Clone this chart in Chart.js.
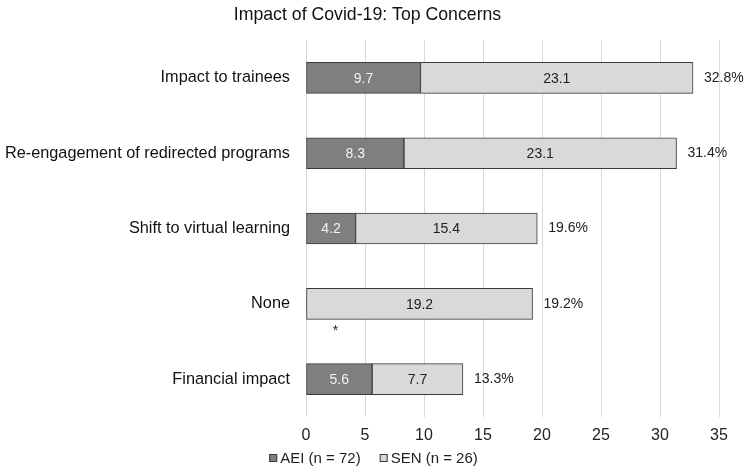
<!DOCTYPE html>
<html>
<head>
<meta charset="utf-8">
<script src="https://cdn.jsdelivr.net/npm/chart.js@4"></script>
<style>
  html, body { margin: 0; padding: 0; background: #fff; }
  #wrap { width: 747px; height: 473px; }
</style>
</head>
<body>
<div id="wrap"><canvas id="concernChart" width="747" height="473"></canvas></div>
<script>
const categories = ['Impact to trainees', 'Re-engagement of redirected programs', 'Shift to virtual learning', 'None', 'Financial impact'];
const aeiValues = [9.7, 8.3, 4.2, 0, 5.6];
const senValues = [23.1, 23.1, 15.4, 19.2, 7.7];
const totalLabels = ['32.8%', '31.4%', '19.6%', '19.2%', '13.3%'];
const xTicks = [0, 5, 10, 15, 20, 25, 30, 35];

const fontName = '"Liberation Sans", Arial, sans-serif';

// value labels inside bars, totals at bar ends, "*" where AEI is zero
const barLabels = {
    id: 'barLabels',
    afterLayout(chart) {
        // centre the title on the canvas, not on the padded box
        chart.titleBlock.left += 8;
        chart.titleBlock.right += 8;
    },
    afterDatasetsDraw(chart) {
        const ctx = chart.ctx;
        const xScale = chart.scales.x;
        ctx.save();
        ctx.font = '14px ' + fontName;
        ctx.textBaseline = 'middle';

        chart.data.datasets.forEach((ds, di) => {
            const meta = chart.getDatasetMeta(di);
            meta.data.forEach((bar, i) => {
                const p = bar.getProps(['x', 'base', 'y', 'height'], true);
                const v = ds.data[i];
                if (v === 0) {
                    ctx.fillStyle = '#222';
                    ctx.textAlign = 'center';
                    ctx.fillText('*', xScale.getPixelForValue(2.5), p.y + p.height / 2 + 12);
                    return;
                }
                ctx.fillStyle = di === 0 ? '#f2f2f2' : '#222';
                ctx.textAlign = 'center';
                ctx.fillText(v.toFixed(1), (p.x + p.base) / 2, p.y + 1);
            });
        });

        const last = chart.getDatasetMeta(chart.data.datasets.length - 1);
        last.data.forEach((bar, i) => {
            const p = bar.getProps(['x', 'y'], true);
            ctx.fillStyle = '#222';
            ctx.textAlign = 'left';
            ctx.fillText(totalLabels[i], p.x + 11, p.y);
        });
        ctx.restore();
    },
    afterDraw(chart) {
        // small legend under the axis, Excel style (box tight to text)
        const ctx = chart.ctx;
        const sets = chart.data.datasets;
        ctx.save();
        ctx.font = '15px ' + fontName;
        ctx.textBaseline = 'middle';
        const widths = sets.map(ds => ctx.measureText(ds.label).width);
        const box = 8, gap = 3, between = 19;
        const total = widths.reduce((a, w) => a + box + gap + w, 0) + between * (sets.length - 1);
        let x = chart.width / 2 - total / 2;
        const y = 458;
        sets.forEach((ds, i) => {
            ctx.fillStyle = ds.backgroundColor;
            ctx.strokeStyle = ds.borderColor;
            ctx.lineWidth = 1;
            ctx.fillRect(x, y - box / 2, box, box);
            ctx.strokeRect(x + 0.5, y - box / 2 + 0.5, box - 1, box - 1);
            x += box + gap;
            ctx.fillStyle = '#222';
            ctx.textAlign = 'left';
            ctx.fillText(ds.label, x, y + 1);
            x += widths[i] + between;
        });
        ctx.restore();
    }
};

new Chart(document.getElementById('concernChart'), {
    type: 'bar',
    data: {
        labels: categories,
        datasets: [
            {
                label: 'AEI (n = 72)',
                data: aeiValues,
                backgroundColor: '#7f7f7f',
                borderColor: '#3a3a3a',
                borderWidth: 1,
                borderSkipped: false,
                barThickness: 31
            },
            {
                label: 'SEN (n = 26)',
                data: senValues,
                backgroundColor: '#d9d9d9',
                borderColor: '#3a3a3a',
                borderWidth: 1,
                borderSkipped: false,
                barThickness: 31
            }
        ]
    },
    options: {
        indexAxis: 'y',
        responsive: false,
        animation: false,
        layout: { padding: { left: 0, right: 28, top: 0, bottom: 19 } },
        scales: {
            x: {
                stacked: true,
                min: 0,
                max: 35,
                afterBuildTicks: (scale) => { scale.ticks = xTicks.map(v => ({ value: v })); },
                grid: { color: '#d9d9d9', drawTicks: false },
                border: { display: false },
                ticks: { padding: 9, color: '#222', font: { family: fontName, size: 16 } }
            },
            y: {
                stacked: true,
                grid: { display: false, drawTicks: false },
                border: { display: false },
                afterFit: (scale) => { scale.width = 306; },
                ticks: { padding: 16, color: '#111', font: { family: fontName, size: 16.3 } }
            }
        },
        plugins: {
            title: {
                display: true,
                text: 'Impact of Covid-19: Top Concerns',
                color: '#111',
                font: { family: fontName, size: 17.7, weight: 'normal' },
                padding: { top: 4, bottom: 15 }
            },
            legend: { display: false },
            tooltip: { enabled: false }
        }
    },
    plugins: [barLabels]
});
</script>
</body>
</html>
